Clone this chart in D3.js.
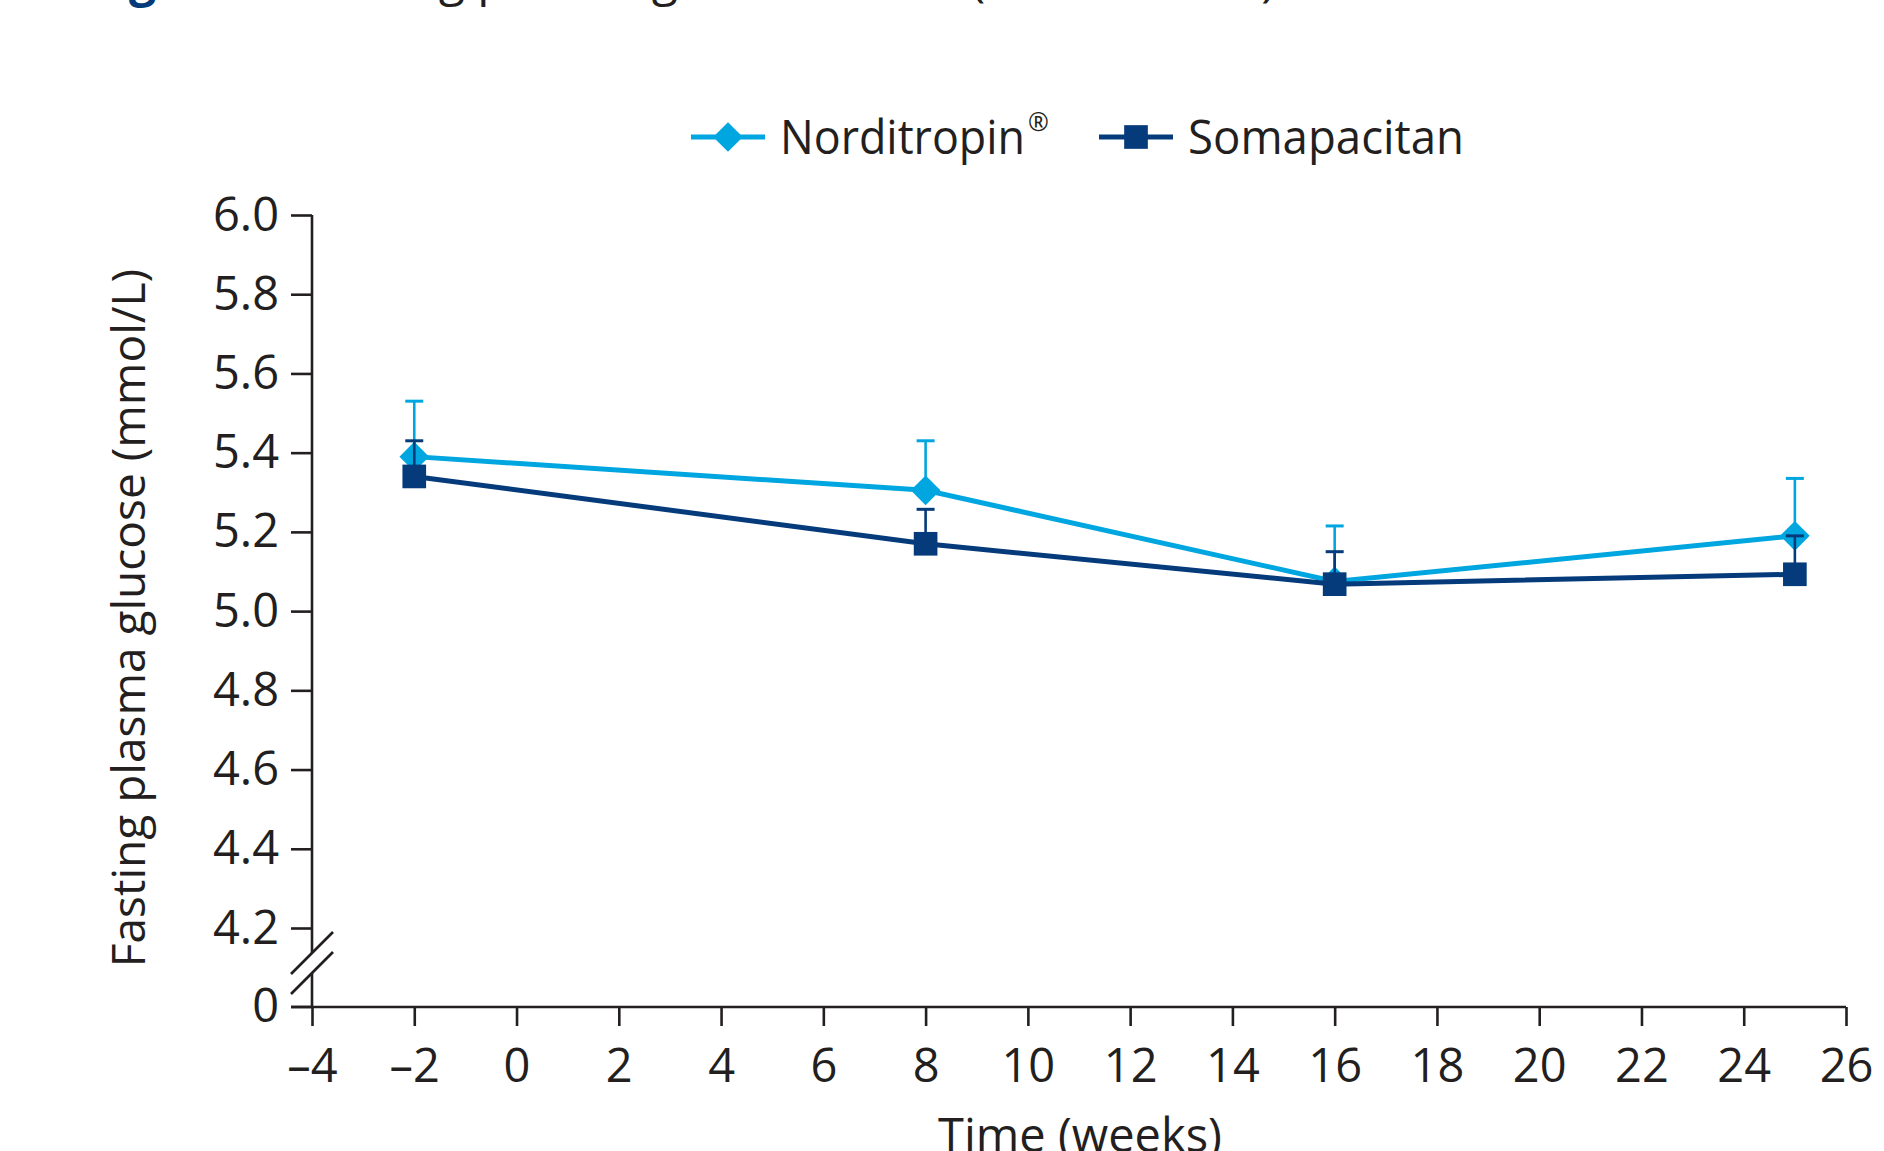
<!DOCTYPE html>
<html>
<head>
<meta charset="utf-8">
<script src="https://cdn.jsdelivr.net/npm/d3@7"></script>
<style>
  body { margin: 0; background: #fff; }
  svg { display: block; }
  text { font-family: "Open Sans", sans-serif; fill: #231f20; }
</style>
</head>
<body>
<div id="chart"></div>
<script>
// data
var weeks      = [-2, 8, 16, 25];
var nordMean   = [5.39, 5.305, 5.075, 5.19];
var nordUpper  = [5.53, 5.43, 5.215, 5.335];
var somaMean   = [5.34, 5.17, 5.068, 5.093];
var somaUpper  = [5.43, 5.257, 5.15, 5.19];
var xTicks     = [-4, -2, 0, 2, 4, 6, 8, 10, 12, 14, 16, 18, 20, 22, 24, 26];
var yTicks     = [4.2, 4.4, 4.6, 4.8, 5.0, 5.2, 5.4, 5.6, 5.8, 6.0];
var seriesNames = ["Norditropin", "Somapacitan"];

// dimensions
var svgWidth = 1884, svgHeight = 1151;
var lightBlue = "#00a6df", navy = "#053a7b", ink = "#231f20";

var svg = d3.select("#chart").append("svg")
    .attr("width", svgWidth)
    .attr("height", svgHeight);

var x = d3.scaleLinear().domain([-4, 26]).range([312, 1846]);
var y = d3.scaleLinear().domain([4.2, 6.0]).range([928, 215]);
var zeroY = y(4.2) + 79;   // the broken-axis "0" sits one step below 4.2

// cut-off title at the very top
svg.append("text")
    .attr("x", 88).attr("y", -4)
    .style("font-size", "48px")
    .call(function(t) {
        t.append("tspan").text("Figure 3").style("font-weight", "bold").style("fill", navy);
        t.append("tspan").attr("dx", 28).text("Fasting plasma glucose levels (mean + SEM)");
    });

// X axis
var xAxis = d3.axisBottom(x)
    .tickValues(xTicks)
    .tickSize(19)
    .tickSizeOuter(0)
    .tickFormat(function(d) { return d < 0 ? "\u2013" + Math.abs(d) : d; });

var gx = svg.append("g")
    .attr("transform", "translate(0," + zeroY + ")")
    .call(xAxis);
gx.select(".domain").remove();
gx.selectAll(".tick line").attr("stroke", ink).attr("stroke-width", 2.6);
gx.selectAll(".tick text")
    .attr("y", 75).attr("dy", null)
    .style("font-size", "47px").style("fill", ink);

svg.append("line")
    .attr("x1", x(-4) - 21).attr("x2", x(26))
    .attr("y1", zeroY).attr("y2", zeroY)
    .attr("stroke", ink).attr("stroke-width", 2.6);

// Y axis
var yAxis = d3.axisLeft(y)
    .tickValues(yTicks)
    .tickSize(21)
    .tickPadding(12)
    .tickFormat(d3.format(".1f"));

var gy = svg.append("g")
    .attr("transform", "translate(" + x(-4) + ",0)")
    .call(yAxis);
gy.select(".domain").remove();
gy.selectAll(".tick line").attr("stroke", ink).attr("stroke-width", 2.6);
gy.selectAll(".tick text").style("font-size", "47px").style("fill", ink);

// zero tick below the break
gy.append("line")
    .attr("x1", -21).attr("x2", 0)
    .attr("y1", zeroY).attr("y2", zeroY)
    .attr("stroke", ink).attr("stroke-width", 2.6);
gy.append("text")
    .attr("x", -33).attr("y", zeroY).attr("dy", "0.32em")
    .attr("text-anchor", "end")
    .style("font-size", "47px")
    .text("0");

// y axis line with a break
var breakTop = y(4.2) + 25, breakBot = y(4.2) + 45;
gy.append("line")
    .attr("x1", 0).attr("x2", 0).attr("y1", y(6.0)).attr("y2", breakTop)
    .attr("stroke", ink).attr("stroke-width", 2.6);
gy.append("line")
    .attr("x1", 0).attr("x2", 0).attr("y1", breakBot).attr("y2", zeroY)
    .attr("stroke", ink).attr("stroke-width", 2.6);
[breakTop, breakBot].forEach(function(by) {
    gy.append("line")
        .attr("x1", -21).attr("y1", by + 21)
        .attr("x2", 21).attr("y2", by - 21)
        .attr("stroke", ink).attr("stroke-width", 2.6);
});

// axis titles
svg.append("text")
    .attr("transform", "translate(145," + ((y(6.0) + zeroY) / 2 + 7) + ") rotate(-90)")
    .attr("text-anchor", "middle")
    .style("font-size", "46px")
    .text("Fasting plasma glucose (mmol/L)");

svg.append("text")
    .attr("x", 1080).attr("y", 1152)
    .attr("text-anchor", "middle")
    .style("font-size", "47px")
    .text("Time (weeks)");

// series
var diamond = d3.symbol().type(d3.symbolSquare).size(440);
var square  = d3.symbol().type(d3.symbolSquare).size(560);

function drawSeries(means, uppers, colour, marker, rotate) {
    var pts = weeks.map(function(w, i) { return { w: w, m: means[i], u: uppers[i] }; });
    var g = svg.append("g");

    // error bars (upper only)
    g.selectAll(".stem").data(pts).enter().append("line")
        .attr("x1", function(d) { return x(d.w); })
        .attr("x2", function(d) { return x(d.w); })
        .attr("y1", function(d) { return y(d.m); })
        .attr("y2", function(d) { return y(d.u); })
        .attr("stroke", colour).attr("stroke-width", 2.6);
    g.selectAll(".cap").data(pts).enter().append("line")
        .attr("x1", function(d) { return x(d.w) - 9; })
        .attr("x2", function(d) { return x(d.w) + 9; })
        .attr("y1", function(d) { return y(d.u); })
        .attr("y2", function(d) { return y(d.u); })
        .attr("stroke", colour).attr("stroke-width", 3);

    g.append("path")
        .datum(pts)
        .attr("fill", "none")
        .attr("stroke", colour)
        .attr("stroke-width", 5)
        .attr("d", d3.line()
            .x(function(d) { return x(d.w); })
            .y(function(d) { return y(d.m); }));

    g.selectAll(".mark").data(pts).enter().append("path")
        .attr("d", marker)
        .attr("fill", colour)
        .attr("transform", function(d) {
            return "translate(" + x(d.w) + "," + y(d.m) + ")" + (rotate ? " rotate(45)" : "");
        });
}

drawSeries(nordMean, nordUpper, lightBlue, diamond, true);
// somapacitan error bars sit over the diamonds
drawSeries(somaMean, somaUpper, navy, square, false);

// legend
var legend = [
    { name: seriesNames[0], colour: lightBlue, marker: diamond, rotate: true, x0: 691, len: 245 },
    { name: seriesNames[1], colour: navy, marker: square, rotate: false, x0: 1099, len: 276 }
];
var ly = 137;
legend.forEach(function(l) {
    svg.append("line")
        .attr("x1", l.x0).attr("x2", l.x0 + 74)
        .attr("y1", ly).attr("y2", ly)
        .attr("stroke", l.colour).attr("stroke-width", 5);
    svg.append("path")
        .attr("d", l.marker)
        .attr("fill", l.colour)
        .attr("transform", "translate(" + (l.x0 + 37) + "," + ly + ")" + (l.rotate ? " rotate(45)" : ""));
    svg.append("text")
        .attr("x", l.x0 + 89).attr("y", ly + 17)
        .attr("textLength", l.len).attr("lengthAdjust", "spacingAndGlyphs")
        .style("font-size", "47px")
        .text(l.name);
    if (l.rotate) {
        svg.append("text")
            .attr("x", l.x0 + 89 + l.len + 3).attr("y", ly - 6)
            .style("font-size", "25px")
            .text("\u00ae");
    }
});
</script>
</body>
</html>
